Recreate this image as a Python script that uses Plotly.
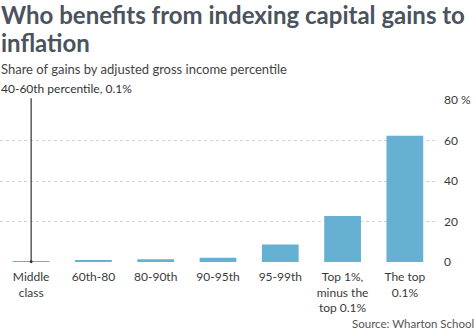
import plotly.graph_objects as go

categories = ["Middle<br>class", "60th-80", "80-90th", "90-95th", "95-99th",
              "Top 1%,<br>minus the<br>top 0.1%", "The top<br>0.1%"]
shares = [0.1, 0.5, 1.3, 2.1, 8.7, 22.7, 62.4]
tick_vals = [0, 20, 40, 60, 80]
tick_text = ["0", "20", "40", "60", "80 %"]

title_lines = ["Who benefits from indexing capital gains to", "inflation"]
subtitle = "Share of gains by adjusted gross income percentile"
callout = "40-60th percentile, 0.1%"
source = "Source: Wharton School"

fig = go.Figure()
fig.add_trace(go.Bar(x=categories, y=shares, marker_color="#66b0d1",
                     marker_line_width=0, hoverinfo="skip"))

fig.update_layout(
    width=474, height=331,
    margin=dict(l=0, r=38, t=100, b=69),
    paper_bgcolor="white", plot_bgcolor="white",
    bargap=0.41, showlegend=False,
    font=dict(family="Lato", color="#333333", size=12),
    xaxis=dict(showgrid=False, showline=False, ticks="", ticklabelstandoff=6,
               tickfont=dict(size=12, color="#3a3a3a"), fixedrange=True),
    yaxis=dict(side="right", range=[0, 80], tickvals=tick_vals, ticktext=tick_text,
               showgrid=True, gridcolor="#d2d2d2", griddash="dot", gridwidth=1,
               zeroline=False, showline=False, ticks="", ticklabelstandoff=7,
               tickfont=dict(size=12, color="#3a3a3a")),
)

annotations = [
    dict(text="<b>" + title_lines[0] + "</b>", x=0, y=1, xref="paper", yref="paper",
         xanchor="left", yanchor="top", xshift=-1, yshift=102,
         showarrow=False, font=dict(size=24, color="#4b535d", family="Lato")),
    dict(text="<b>" + title_lines[1] + "</b>", x=0, y=1, xref="paper", yref="paper",
         xanchor="left", yanchor="top", xshift=-1, yshift=102 - 28,
         showarrow=False, font=dict(size=24, color="#4b535d", family="Lato")),
    dict(text=subtitle, x=0, y=1, xref="paper", yref="paper",
         xanchor="left", yanchor="top", xshift=-1, yshift=100 - 59,
         showarrow=False, font=dict(size=13, color="#444444", family="Lato")),
    dict(text=callout, x=0, y=1, xref="paper", yref="paper",
         xanchor="left", yanchor="top", xshift=-1, yshift=100 - 79,
         showarrow=False, font=dict(size=12, color="#333333", family="Lato")),
    dict(text=source, x=1, y=0, xref="paper", yref="paper",
         xanchor="right", yanchor="bottom", xshift=40, yshift=-70,
         showarrow=False, font=dict(size=11.5, color="#555555", family="Lato")),
    dict(text="", x=categories[0], y=shares[0], xref="x", yref="y",
         showarrow=True, ax=0, ay=-165, axref="pixel", ayref="pixel",
         arrowhead=6, arrowsize=0.6, arrowwidth=1.2, arrowcolor="#333333",
         standoff=0),
]
fig.update_layout(annotations=annotations)

fig.write_html("out.html")
